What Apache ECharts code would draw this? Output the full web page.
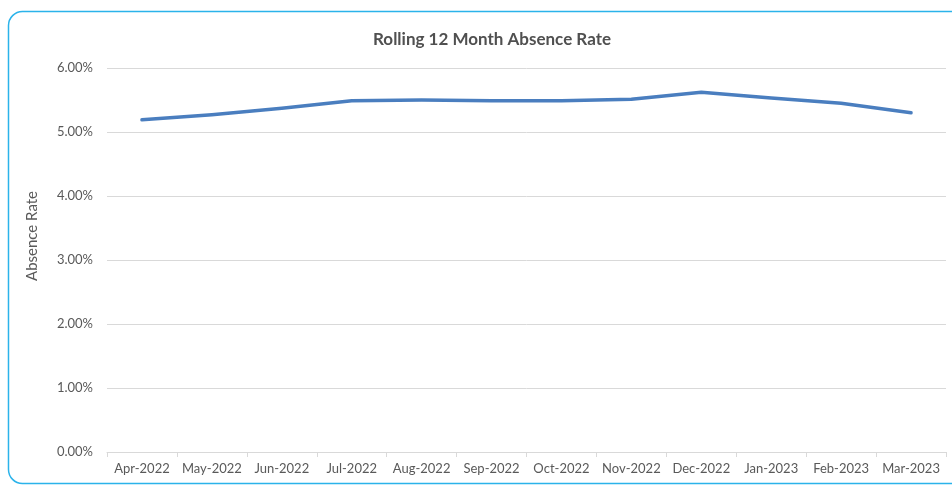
<!DOCTYPE html>
<html>
<head>
<meta charset="utf-8">
<script src="https://cdn.jsdelivr.net/npm/echarts@6/dist/echarts.min.js"></script>
<style>
	html, body { margin: 0; padding: 0; background: #fff; }
	#chart { width: 952px; height: 485px; }
</style>
</head>
<body>
<div id="chart"></div>
<script>
// months along the x axis
const months = ["Apr-2022", "May-2022", "Jun-2022", "Jul-2022", "Aug-2022", "Sep-2022",
	"Oct-2022", "Nov-2022", "Dec-2022", "Jan-2023", "Feb-2023", "Mar-2023"];
// rolling 12 month absence rate, in percent
const absenceRate = [5.19, 5.27, 5.37, 5.49, 5.50, 5.49, 5.49, 5.51, 5.62, 5.53, 5.45, 5.30];

const font = "Lato, 'Open Sans', sans-serif";
const myChart = echarts.init(document.getElementById("chart"));

myChart.setOption({
	animation: false,
	title: {
		text: "Rolling 12 Month Absence Rate",
		left: 487,
		textAlign: "center",
		top: 26,
		textStyle: { fontFamily: font, fontSize: 17, fontWeight: "bold", color: "#505050" },
	},
	graphic: [
		{
			type: "rect",
			shape: { x: 8.5, y: 11.5, width: 1000, height: 472, r: 14 },
			style: { fill: "none", stroke: "#2bb3ea", lineWidth: 1.5 },
		},
		{
			type: "text",
			x: 25,
			y: 236,
			rotation: Math.PI / 2,
			style: {
				text: "Absence Rate",
				fontFamily: font,
				fontSize: 15,
				fill: "#595959",
				align: "center",
				verticalAlign: "top",
			},
		},
	],
	grid: { left: 107, right: 6, top: 68, bottom: 33 },
	xAxis: {
		type: "category",
		data: months,
		boundaryGap: true,
		axisLine: { lineStyle: { color: "#d9d9d9" } },
		axisTick: { show: true, length: 5, lineStyle: { color: "#d9d9d9" } },
		axisLabel: { color: "#595959", fontFamily: font, fontSize: 13, margin: 10, interval: 0 },
	},
	yAxis: {
		type: "value",
		min: 0,
		max: 6,
		interval: 1,
		axisLine: { show: false },
		axisTick: { show: false },
		splitLine: { lineStyle: { color: "#d9d9d9", width: 1 } },
		axisLabel: {
			color: "#595959",
			fontFamily: font,
			fontSize: 13,
			margin: 14,
			formatter: (v) => v.toFixed(2) + "%",
		},
	},
	series: [
		{
			type: "line",
			data: absenceRate,
			symbol: "none",
			lineStyle: { color: "#4a7ebf", width: 3.5, cap: "round", join: "round" },
		},
	],
});
</script>
</body>
</html>
